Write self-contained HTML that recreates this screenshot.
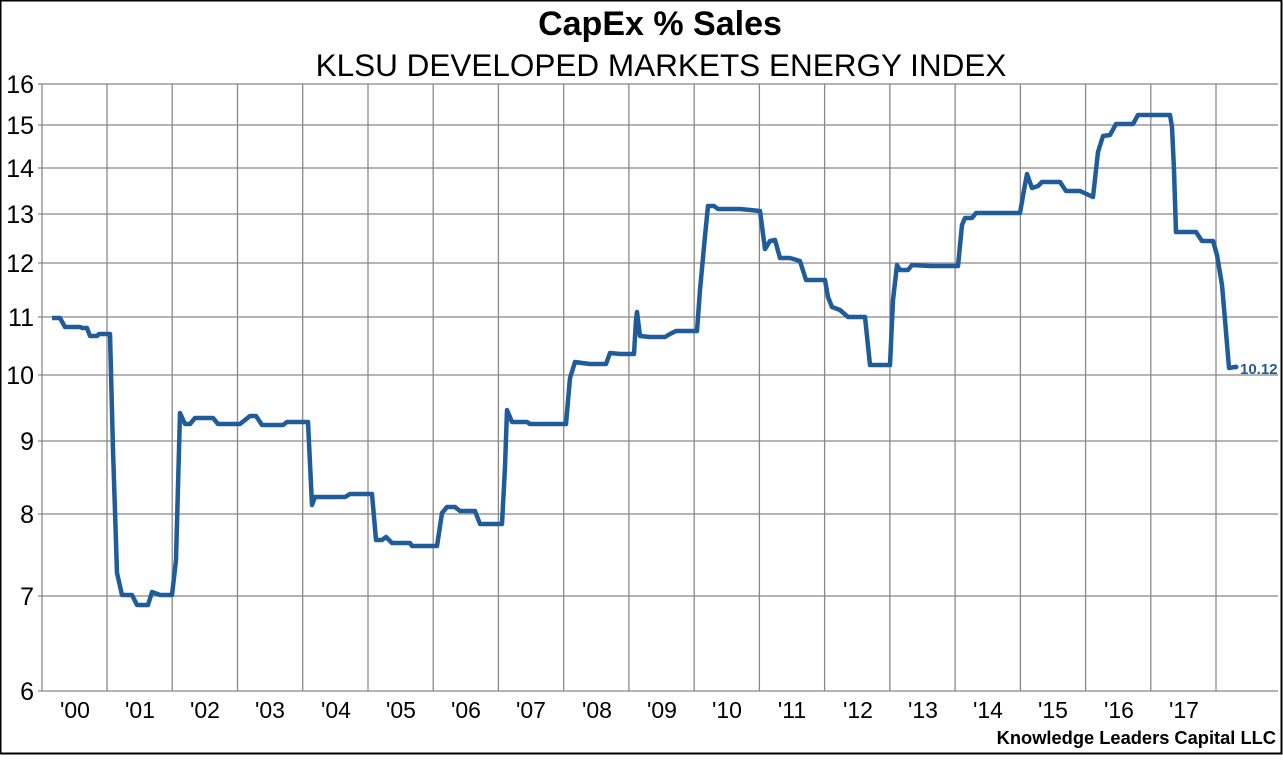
<!DOCTYPE html>
<html><head><meta charset="utf-8"><style>
html,body{margin:0;padding:0;background:#fff}
</style></head><body>
<svg width="1283" height="755" xmlns="http://www.w3.org/2000/svg" font-family="Liberation Sans, Arial, sans-serif">
<rect x="0.5" y="0.5" width="1281" height="753" fill="#fff" stroke="#000" stroke-width="2"/>
<text x="660" y="35" text-anchor="middle" font-size="34" font-weight="bold">CapEx % Sales</text>
<text x="661" y="76" text-anchor="middle" font-size="31.5">KLSU DEVELOPED MARKETS ENERGY INDEX</text>
<g stroke="#888" stroke-width="1.3">
<line x1="38" y1="84" x2="1278" y2="84"/>
<line x1="38" y1="125" x2="1278" y2="125"/>
<line x1="38" y1="168" x2="1278" y2="168"/>
<line x1="38" y1="214" x2="1278" y2="214"/>
<line x1="38" y1="263" x2="1278" y2="263"/>
<line x1="38" y1="317" x2="1278" y2="317"/>
<line x1="38" y1="375" x2="1278" y2="375"/>
<line x1="38" y1="441" x2="1278" y2="441"/>
<line x1="38" y1="514" x2="1278" y2="514"/>
<line x1="38" y1="596" x2="1278" y2="596"/>
<line x1="38" y1="691" x2="1278" y2="691"/>
<line x1="42" y1="84" x2="42" y2="691"/>
<line x1="107" y1="84" x2="107" y2="691"/>
<line x1="172.2" y1="84" x2="172.2" y2="691"/>
<line x1="237.5" y1="84" x2="237.5" y2="691"/>
<line x1="302.7" y1="84" x2="302.7" y2="691"/>
<line x1="368" y1="84" x2="368" y2="691"/>
<line x1="433.2" y1="84" x2="433.2" y2="691"/>
<line x1="498.4" y1="84" x2="498.4" y2="691"/>
<line x1="563.7" y1="84" x2="563.7" y2="691"/>
<line x1="628.9" y1="84" x2="628.9" y2="691"/>
<line x1="694.2" y1="84" x2="694.2" y2="691"/>
<line x1="759.4" y1="84" x2="759.4" y2="691"/>
<line x1="824.6" y1="84" x2="824.6" y2="691"/>
<line x1="889.9" y1="84" x2="889.9" y2="691"/>
<line x1="955.1" y1="84" x2="955.1" y2="691"/>
<line x1="1020.4" y1="84" x2="1020.4" y2="691"/>
<line x1="1085.6" y1="84" x2="1085.6" y2="691"/>
<line x1="1150.8" y1="84" x2="1150.8" y2="691"/>
<line x1="1216" y1="84" x2="1216" y2="691"/>
</g>
<g font-size="25" text-anchor="end" fill="#000">
<text x="34" y="93">16</text><text x="34" y="134">15</text><text x="34" y="177">14</text>
<text x="34" y="223">13</text><text x="34" y="272">12</text><text x="34" y="326">11</text>
<text x="34" y="384">10</text><text x="34" y="450">9</text><text x="34" y="523">8</text>
<text x="34" y="605">7</text><text x="34" y="700">6</text>
</g>
<g font-size="23" text-anchor="middle" fill="#000">
<text x="75" y="718">'00</text><text x="140" y="718">'01</text><text x="205" y="718">'02</text>
<text x="270" y="718">'03</text><text x="336" y="718">'04</text><text x="401" y="718">'05</text>
<text x="466" y="718">'06</text><text x="531" y="718">'07</text><text x="597" y="718">'08</text>
<text x="662" y="718">'09</text><text x="727" y="718">'10</text><text x="792" y="718">'11</text>
<text x="858" y="718">'12</text><text x="923" y="718">'13</text><text x="988" y="718">'14</text>
<text x="1053" y="718">'15</text><text x="1119" y="718">'16</text><text x="1184" y="718">'17</text>
</g>
<text x="1276" y="744" text-anchor="end" font-size="18.3" font-weight="bold">Knowledge Leaders Capital LLC</text>
<polyline fill="none" stroke="#1F5C99" stroke-width="4.5" stroke-linejoin="round" points="52,318 60,318 65,327 80,327 82,328 87,328 90,336 97,336 99,334 110,334 113,450 117,573 122,595 132,595 137,605 148,605 152,592 160,595 168,595 172,595 176,560 180,413 185,424 190,424 195,418 213,418 218,424 240,424 250,416 256,416 262,425 283,425 287,422 308,422 312,505 315,497 345,497 350,494 372,494 376,540 382,540 386,537 392,543 410,543 412,546 437,546 442,513 447,507 455,507 460,511 475,511 480,524 502,524 505,467 507,410 512,422 527,422 530,424 566,424 570,378 575,362 582,363 590,364 606,364 610,353 620,354 634,354 636,320 637,312 640,336 650,337 665,337 670,334 676,331 697,331 700,290 705,236 708,206 714,206 718,209 740,209 760,211 765,249 770,241 775,240 780,258 790,258 800,261 806,280 825,280 828,297 832,307 840,310 848,317 865,317 870,365 890,365 893,300 897,265 900,270 908,270 912,265 930,266 958,266 962,225 965,218 972,218 976,213 1020,213 1024,190 1027,174 1032,188 1038,186 1042,182 1060,182 1066,191 1080,191 1093,197 1098,152 1103,136 1110,135 1116,124 1133,124 1138,115 1170,115 1172,127 1174,170 1176,232 1196,232 1202,241 1213,241 1217,255 1222,285 1225,320 1229,368 1235,367"/>
<circle cx="1236" cy="367" r="2.5" fill="#1F5C99"/>
<text x="1240" y="374" font-size="15" font-weight="bold" fill="#1F5C99">10.12</text>
</svg>
</body></html>
